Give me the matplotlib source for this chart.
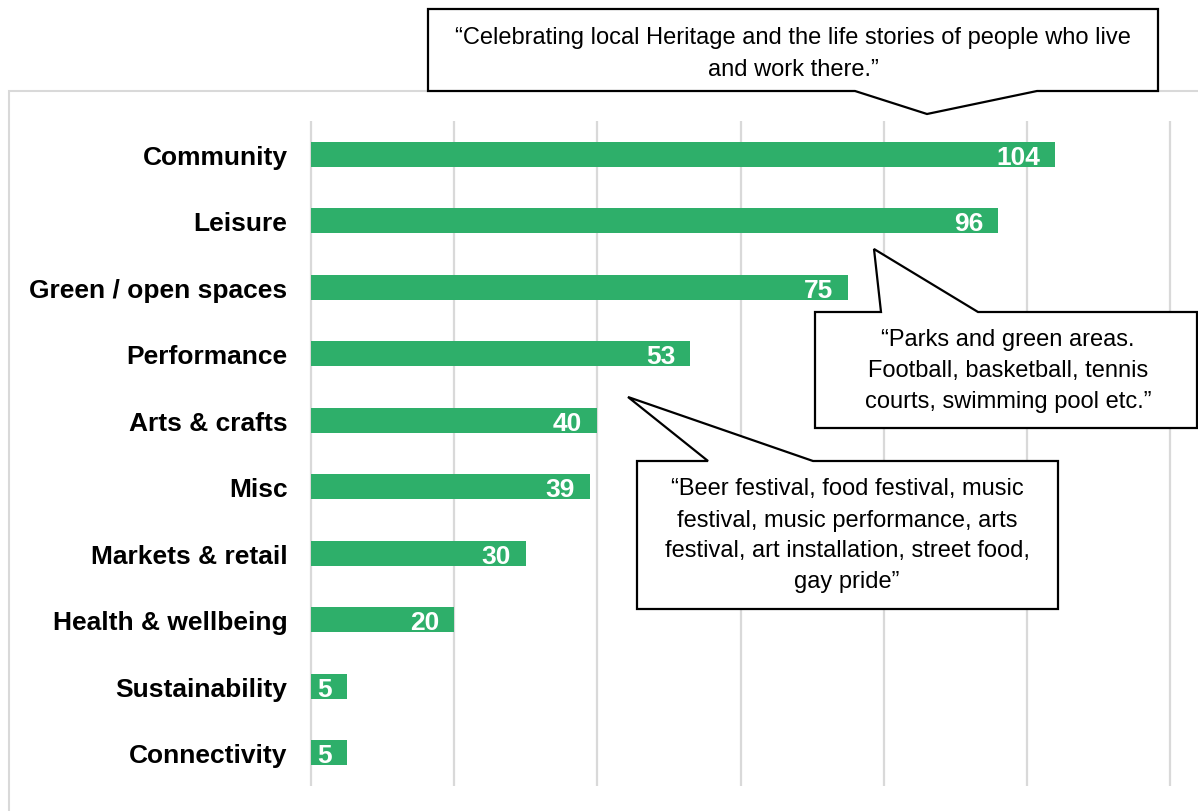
import numpy as np
import matplotlib.pyplot as plt
from matplotlib.patches import Polygon, Rectangle

plt.rcParams['font.family'] = ['Liberation Sans', 'DejaVu Sans']

# Survey responses per theme
categories = ["Community", "Leisure", "Green / open spaces", "Performance",
              "Arts & crafts", "Misc", "Markets & retail", "Health & wellbeing",
              "Sustainability", "Connectivity"]
counts = [104, 96, 75, 53, 40, 39, 30, 20, 5, 5]
grid_ticks = [0, 20, 40, 60, 80, 100, 120]

# Quotes shown in the speech bubbles
quote_heritage = ["\u201cCelebrating local Heritage and the life stories of people who live",
                  "and work there.\u201d"]
quote_parks = ["\u201cParks and green areas.",
               "Football, basketball, tennis",
               "courts, swimming pool etc.\u201d"]
quote_festivals = ["\u201cBeer festival, food festival, music",
                   "festival, music performance, arts",
                   "festival, art installation, street food,",
                   "gay pride\u201d"]

W, H = 1198, 812
green = '#2EAF6A'
grid_col = '#D9D9D9'


def px(x, y):
    # pixel position (from top-left) -> figure fraction
    return (x / W, 1 - y / H)


fig = plt.figure(figsize=(W / 100, H / 100), dpi=100)

# light outer chart frame
fig.add_artist(Rectangle(px(9, 815), (1205 - 9) / W, (815 - 92) / H,
                         transform=fig.transFigure, fill=False,
                         edgecolor=grid_col, lw=1.5, zorder=0))

ax = fig.add_axes([311 / W, 1 - 787 / H, (1170 - 311) / W, (787 - 122) / H])
y = np.arange(len(categories))

ax.vlines(grid_ticks, -0.5, len(categories) - 0.5, color=grid_col, lw=1.6,
          clip_on=False, zorder=1)
ax.barh(y, counts, height=0.376, color=green, zorder=2)

for i, v in enumerate(counts):
    ax.annotate(str(v), xy=(v, i), xytext=(-15, 0), textcoords='offset pixels',
                ha='right', va='center_baseline', color='white',
                fontweight='bold', fontsize=19, zorder=3)

ax.set_xlim(0, 120)
ax.set_ylim(len(categories) - 0.5, -0.5)
ax.set_yticks(y)
ax.set_yticklabels(categories, fontweight='bold', fontsize=19)
ax.set_xticks([])
ax.tick_params(axis='y', length=0, pad=17)
for s in ax.spines.values():
    s.set_visible(False)


def bubble(verts, lines, cx, cy, step=31):
    fig.add_artist(Polygon([px(a, b) for a, b in verts], closed=True,
                           transform=fig.transFigure, facecolor='white',
                           edgecolor='black', lw=1.6, zorder=5))
    top = cy - step * (len(lines) - 1) / 2
    for k, line in enumerate(lines):
        fig.text(*px(cx, top + k * step), line, ha='center', va='center',
                 fontsize=17, zorder=6)


bubble([(428, 10), (1158, 10), (1158, 92), (1037, 92), (927, 115),
        (855, 92), (428, 92)], quote_heritage, 793, 54, step=32)
bubble([(815, 313), (881, 313), (874, 250), (978, 313), (1197, 313),
        (1197, 429), (815, 429)], quote_parks, 1008, 371)
bubble([(637, 462), (708, 462), (628, 398), (813, 462), (1058, 462),
        (1058, 610), (637, 610)], quote_festivals, 847, 536)

fig.savefig('out.png', dpi=100)
